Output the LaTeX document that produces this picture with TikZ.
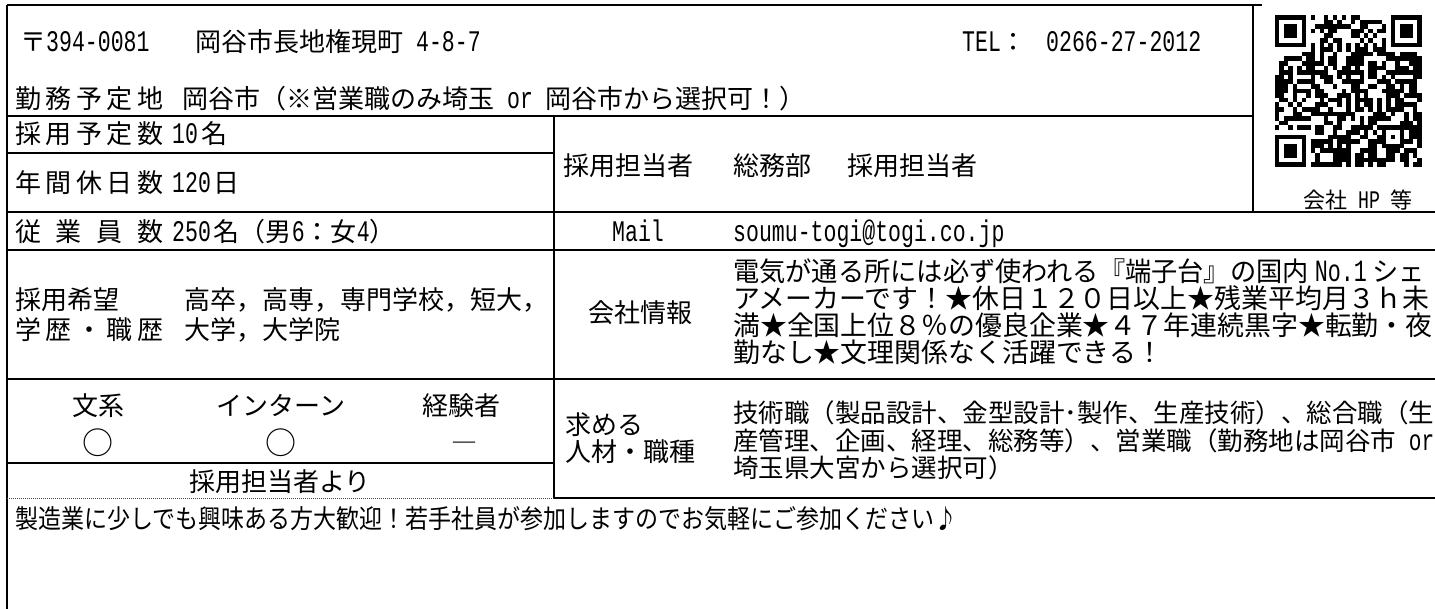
\documentclass[tikz,border=0pt]{standalone}
\usepackage{fontspec}
\usepackage{graphicx}
\setmainfont{Noto Sans CJK JP}
\newfontfamily\latfont[Scale=1.15,FakeStretch=0.72]{Liberation Mono}
\newcommand\lat[1]{{\latfont #1}}
\newcommand\fs{\fontsize{26}{27}\selectfont}
\newcommand\fsb{\fontsize{26.9}{27}\selectfont}
\newcommand\fsc{\fontsize{25.5}{27}\selectfont}
\newcommand\lbl[5]{\hbox to 148pt{#1\hfil #2\hfil #3\hfil #4\hfil #5}}
\begin{document}
\begin{tikzpicture}[x=1pt,y=-1pt,
  grid/.style={line width=1.3pt, black},
  dotline/.style={line width=0.9pt, black!70, dash pattern=on 1pt off 1pt},
  t/.style={anchor=west, inner sep=0pt, text height=23pt, text depth=3pt, font=\fs},
  c/.style={anchor=center, inner sep=0pt, text height=23pt, text depth=3pt, font=\fs},
  mk/.style={anchor=center, inner sep=0pt, font=\fontsize{31}{32}\selectfont}]
\useasboundingbox (0,0) rectangle (1435,609);
\fill[white] (0,0) rectangle (1435,609);

% ---------- grid ----------
\draw[grid] (7,5) -- (1262,5);
\draw[grid] (7,5) -- (7,609);
\draw[grid] (1253,5) -- (1253,212);
\draw[grid] (7,116) -- (1253,116);
\draw[grid] (7,153) -- (554,153);
\draw[grid] (554,116) -- (554,498);
\draw[grid] (7,212) -- (1435,212);
\draw[grid] (7,250) -- (1435,250);
\draw[grid] (7,379) -- (1435,379);
\draw[grid] (7,463) -- (554,463);
\draw[dotline] (7,498) -- (554,498);
\draw[grid] (554,498) -- (1435,498);

% ---------- QR code ----------
\begin{scope}[shift={(1275,15)}, x=4.45pt, y=-4.6pt]
  \pgfmathsetseed{31415}
  \foreach \i in {0,...,32}{
    \foreach \j in {0,...,32}{
      \pgfmathtruncatemacro\r{random(0,99)}
      \pgfmathtruncatemacro\ok{and(\r<55, not(or(or(and(\i<8,\j<8), and(\i>24,\j<8)), or(or(and(\i<8,\j>24), or(\i==6,\j==6)), and(and(\i>23,\i<29), and(\j>23,\j<29))))))}
      \ifnum\ok=1 \fill (\i,\j) rectangle ++(1,1);\fi
    }
  }
  \foreach \a/\b in {0/0,26/0,0/26}{
    \fill (\a,\b) rectangle ++(7,7);
    \fill[white] (\a+1,\b+1) rectangle ++(5,5);
    \fill (\a+2,\b+2) rectangle ++(3,3);
  }
  \foreach \k in {8,10,...,24}{
    \fill (\k,6) rectangle ++(1,1);
    \fill (6,\k) rectangle ++(1,1);
  }
  \fill (24,24) rectangle ++(5,5);
  \fill[white] (25,25) rectangle ++(3,3);
  \fill (26,26) rectangle ++(1,1);
\end{scope}
\node[c, font=\fontsize{22}{23}\selectfont, text height=19pt, text depth=3pt] (hp) at (1358,201) {会社\lat{ HP }等};

% ---------- row 1-2 ----------
\node[t] (zip) at (20,42) {〒\lat{394-0081}};
\node[t] (addr) at (195,42) {岡谷市長地権現町\lat{ 4-8-7}};
\node[t] (tel) at (962,42) {\lat{TEL}：};
\node[t] (telno) at (1046,42) {\lat{0266-27-2012}};
\node[t] (kinmu) at (15,99) {\lbl{勤}{務}{予}{定}{地}};
\node[t] (kinmuv) at (182,99) {岡谷市（※営業職のみ埼玉\lat{ or }岡谷市から選択可！）};

% ---------- rows 3-4 ----------
\node[t] (saiyo) at (15,134) {\lbl{採}{用}{予}{定}{数}};
\node[t] (saiyov) at (172,134) {\lat{10}\hspace{3pt}名};
\node[t] (kyujitsu) at (15,183) {\lbl{年}{間}{休}{日}{数}};
\node[t] (kyujitsuv) at (172,183) {\lat{120}\hspace{3pt}日};
\node[t] (tanto) at (563,166) {採用担当者};
\node[t] (somu) at (733,166) {総務部};
\node[t] (tanto2) at (847,166) {採用担当者};

% ---------- row 5 ----------
\node[t] (jugyoin) at (15,232) {\hbox to 148pt{従\hfil 業\hfil 員\hfil 数}};
\node[t] (jugyoinv) at (172,232) {\lat{250}\hspace{3pt}名（男\lat{6}：女\lat{4}）};
\node[c] (mail) at (638,232) {\lat{Mail}};
\node[t] (mailv) at (733,232) {\lat{soumu-togi@togi.co.jp}};

% ---------- row 6 ----------
\node[t] (kibo1) at (15,300) {採用希望};
\node[t] (kibo2) at (15,330) {\lbl{学}{歴}{・}{職}{歴}};
\node[t] (gaku1) at (184,300) {高卒，高専，専門学校，短大，};
\node[t] (gaku2) at (184,330) {大学，大学院};
\node[c] (kaisha) at (640,313) {会社情報};
\node[t, font=\fsb] (info1) at (733,272) {\scalebox{0.975}[1]{電気が通る所には必ず使われる『端子台』の国内\hspace{6pt}\lat{No.1}\hspace{6pt}シェ}};
\node[t, font=\fsb] (info2) at (733,299) {アメーカーです！★休日１２０日以上★残業平均月３ｈ未};
\node[t, font=\fsb] (info3) at (733,326) {満★全国上位８％の優良企業★４７年連続黒字★転勤・夜};
\node[t, font=\fsb] (info4) at (733,353) {勤なし★文理関係なく活躍できる！};

% ---------- row 7 ----------
\node[c] (bunkei) at (98,405) {文系};
\node[c] (intern) at (281,405) {インターン};
\node[c] (keiken) at (461,405) {経験者};
\node[mk] (m1) at (98,443) {○};
\node[mk] (m2) at (281,443) {○};
\node[c] (m3) at (464,442) {―};
\node[c] (yori) at (280,481) {採用担当者より};
\node[t] (motomeru1) at (565,425) {求める};
\node[t] (motomeru2) at (565,451) {人材・職種};
\node[t, font=\fsc] (job1) at (733,412) {技術職（製品設計、金型設計･製作、生産技術）、総合職（生};
\node[t, font=\fsc] (job2) at (733,440) {産管理、企画、経理、総務等）、営業職（勤務地は岡谷市\lat{ or}};
\node[t, font=\fsc] (job3) at (733,467) {埼玉県大宮から選択可）};

% ---------- row 8 ----------
\node[t] (msg) at (15,518) {\scalebox{0.885}[1]{製造業に少しでも興味ある方大歓迎！若手社員が参加しますのでお気軽にご参加ください♪}};
\end{tikzpicture}
\end{document}
